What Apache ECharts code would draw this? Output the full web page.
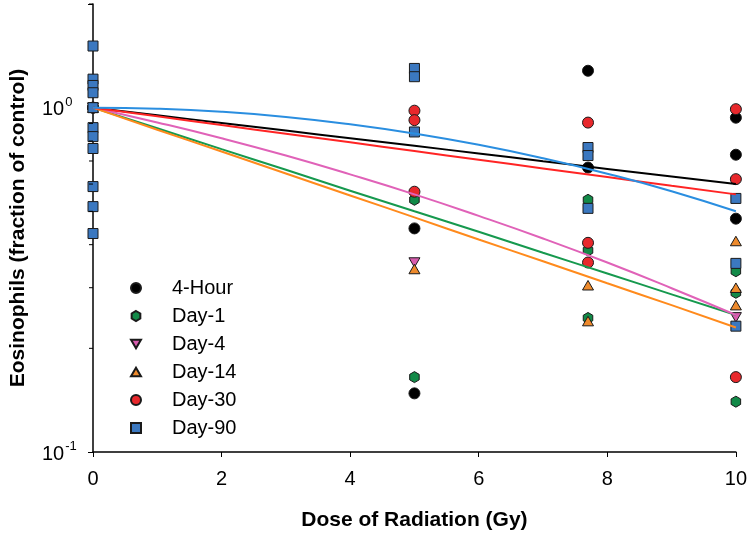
<!DOCTYPE html>
<html>
<head>
<meta charset="utf-8">
<script src="https://cdn.jsdelivr.net/npm/echarts@6/dist/echarts.min.js"></script>
<style>
html,body{margin:0;padding:0;background:#fff;}
#chart{width:750px;height:536px;}
</style>
</head>
<body>
<div id="chart"></div>
<script>
// ---- Data ----
const seriesNames = ['4-Hour', 'Day-1', 'Day-4', 'Day-14', 'Day-30', 'Day-90'];

const hour4Dose = [0, 5, 5, 7.7, 7.7, 10, 10, 10];
const hour4Val  = [1.0, 0.446, 0.148, 1.28, 0.67, 0.935, 0.73, 0.476];

const day1Dose = [0, 5, 5, 7.7, 7.7, 7.7, 10, 10, 10];
const day1Val  = [1.0, 0.54, 0.165, 0.54, 0.385, 0.245, 0.335, 0.29, 0.14];

const day4Dose = [0, 5, 10];
const day4Val  = [1.0, 0.355, 0.246];

const day14Dose = [0, 5, 7.7, 7.7, 10, 10, 10];
const day14Val  = [1.0, 0.34, 0.305, 0.24, 0.41, 0.30, 0.267];

const day30Dose = [0, 5, 5, 5, 7.7, 7.7, 7.7, 10, 10, 10];
const day30Val  = [1.0, 0.98, 0.92, 0.57, 0.905, 0.405, 0.355, 0.99, 0.62, 0.165];

const day90Dose = [0, 0, 0, 0, 0, 0, 0, 0, 0, 0, 0, 5, 5, 5, 7.7, 7.7, 7.7, 10, 10, 10];
const day90Val  = [1.51, 1.21, 1.16, 1.105, 1.0, 0.875, 0.824, 0.761, 0.59, 0.516, 0.431,
                   1.30, 1.23, 0.85, 0.766, 0.726, 0.51, 0.545, 0.353, 0.232];

// fitted curves, read at each Gy
const fitDose   = [0, 1, 2, 3, 4, 5, 6, 7, 8, 9, 10];
const fitHour4  = [1, 0.950, 0.903, 0.858, 0.815, 0.775, 0.736, 0.699, 0.664, 0.631, 0.60];
const fitDay1   = [1, 0.871, 0.758, 0.660, 0.574, 0.500, 0.436, 0.379, 0.330, 0.287, 0.25];
const fitDay4   = [1, 0.906, 0.815, 0.726, 0.640, 0.560, 0.485, 0.417, 0.355, 0.299, 0.25];
const fitDay14  = [1, 0.863, 0.746, 0.644, 0.556, 0.480, 0.414, 0.358, 0.309, 0.267, 0.23];
const fitDay30  = [1, 0.944, 0.890, 0.840, 0.793, 0.748, 0.706, 0.666, 0.629, 0.593, 0.56];
const fitDay90  = [1, 0.993, 0.973, 0.940, 0.895, 0.841, 0.780, 0.713, 0.643, 0.572, 0.50];

const xTicks = [0, 2, 4, 6, 8, 10];
const yMinorTicks = [0.2, 0.3, 0.4, 0.5, 0.6, 0.7, 0.8, 0.9, 2];

// ---- styling ----
const FONT = "'Liberation Sans', Arial, sans-serif";
const markerColors = ['#000000', '#128a48', '#d85cae', '#ee8a2c', '#e8282c', '#3b78c0'];
const lineColors   = ['#000000', '#16994e', '#e062b8', '#ff8a1c', '#ff2424', '#2a8ee0'];
const HEX = 'path://M0,-1 L0.866,-0.5 L0.866,0.5 L0,1 L-0.866,0.5 L-0.866,-0.5 Z';
const TRI_DOWN = 'path://M0,0 L2,0 L1,1.732 Z';
const TRI_UP = 'path://M1,0 L2,1.732 L0,1.732 Z';
const symbols = ['circle', HEX, TRI_DOWN, TRI_UP, 'circle', 'rect'];

const pointSets = [
  [hour4Dose, hour4Val], [day1Dose, day1Val], [day4Dose, day4Val],
  [day14Dose, day14Val], [day30Dose, day30Val], [day90Dose, day90Val]
];
const fitSets = [fitHour4, fitDay1, fitDay4, fitDay14, fitDay30, fitDay90];

const series = [];
pointSets.forEach((ps, i) => {
  series.push({
    name: seriesNames[i],
    type: 'scatter',
    symbol: symbols[i],
    symbolKeepAspect: true,
    symbolSize: (i === 5) ? 10 : 11,
    itemStyle: { color: markerColors[i], borderColor: '#1a1a1a', borderWidth: 1, opacity: 1 },
    data: ps[0].map((d, k) => [d, ps[1][k]]),
    z: 2 + i * 0.01
  });
});
fitSets.forEach((f, i) => {
  series.push({
    name: seriesNames[i] + ' fit',
    type: 'line',
    smooth: true,
    showSymbol: false,
    silent: true,
    lineStyle: { color: lineColors[i], width: 2 },
    data: fitDose.map((d, k) => [d, f[k]]),
    z: 3
  });
});
// minor ticks on the log y axis
series.push({
  type: 'custom',
  silent: true,
  clip: false,
  data: yMinorTicks.map(v => [0, v]),
  renderItem: function (params, api) {
    const p = api.coord([api.value(0), api.value(1)]);
    return { type: 'line', shape: { x1: p[0] - 4, y1: p[1], x2: p[0], y2: p[1] },
             style: { stroke: '#000', lineWidth: 1 } };
  },
  z: 4
});

const chart = echarts.init(document.getElementById('chart'), null, { renderer: 'canvas' });
chart.setOption({
  animation: false,
  backgroundColor: '#ffffff',
  textStyle: { fontFamily: FONT },
  grid: { left: 91, right: 14, top: 4, bottom: 84, containLabel: false },
  legend: {
    data: seriesNames,
    orient: 'vertical',
    left: 125,
    top: 273,
    itemWidth: 10,
    itemHeight: 10,
    itemGap: 8,
    textStyle: { fontSize: 20, color: '#000', fontFamily: FONT, padding: [0, 0, 0, 26] }
  },
  xAxis: {
    type: 'value',
    min: xTicks[0],
    max: xTicks[xTicks.length - 1],
    interval: 2,
    name: 'Dose of Radiation (Gy)',
    nameLocation: 'middle',
    nameGap: 58,
    nameTextStyle: { fontSize: 21, fontWeight: 'bold', color: '#000', fontFamily: FONT },
    axisLine: { show: true, lineStyle: { color: '#000', width: 1.5 } },
    axisTick: { show: true, inside: false, length: 5, lineStyle: { color: '#000', width: 1 } },
    axisLabel: { fontSize: 20, color: '#000', margin: 17, fontFamily: FONT },
    splitLine: { show: false }
  },
  yAxis: {
    type: 'log',
    logBase: 10,
    min: 0.1,
    max: 2,
    name: 'Eosinophils (fraction of control)',
    nameLocation: 'middle',
    nameGap: 64,
    nameTextStyle: { fontSize: 21, fontWeight: 'bold', color: '#000', fontFamily: FONT },
    axisLine: { show: true, lineStyle: { color: '#000', width: 1.5 } },
    axisTick: { show: true, inside: false, length: 5, lineStyle: { color: '#000', width: 1 } },
    axisLabel: {
      align: 'left',
      margin: 51,
      color: '#000',
      formatter: function (v) {
        const e = Math.log10(v);
        if (Math.abs(e - Math.round(e)) > 1e-6) return '';
        return '{b|10}{s|' + Math.round(e) + '}';
      },
      rich: {
        b: { fontSize: 20, color: '#000', fontFamily: FONT, lineHeight: 24, verticalAlign: 'bottom' },
        s: { fontSize: 13, color: '#000', fontFamily: FONT, lineHeight: 24, verticalAlign: 'top', padding: [0, 0, 0, 1] }
      }
    },
    splitLine: { show: false }
  },
  series: series
});
</script>
</body>
</html>
